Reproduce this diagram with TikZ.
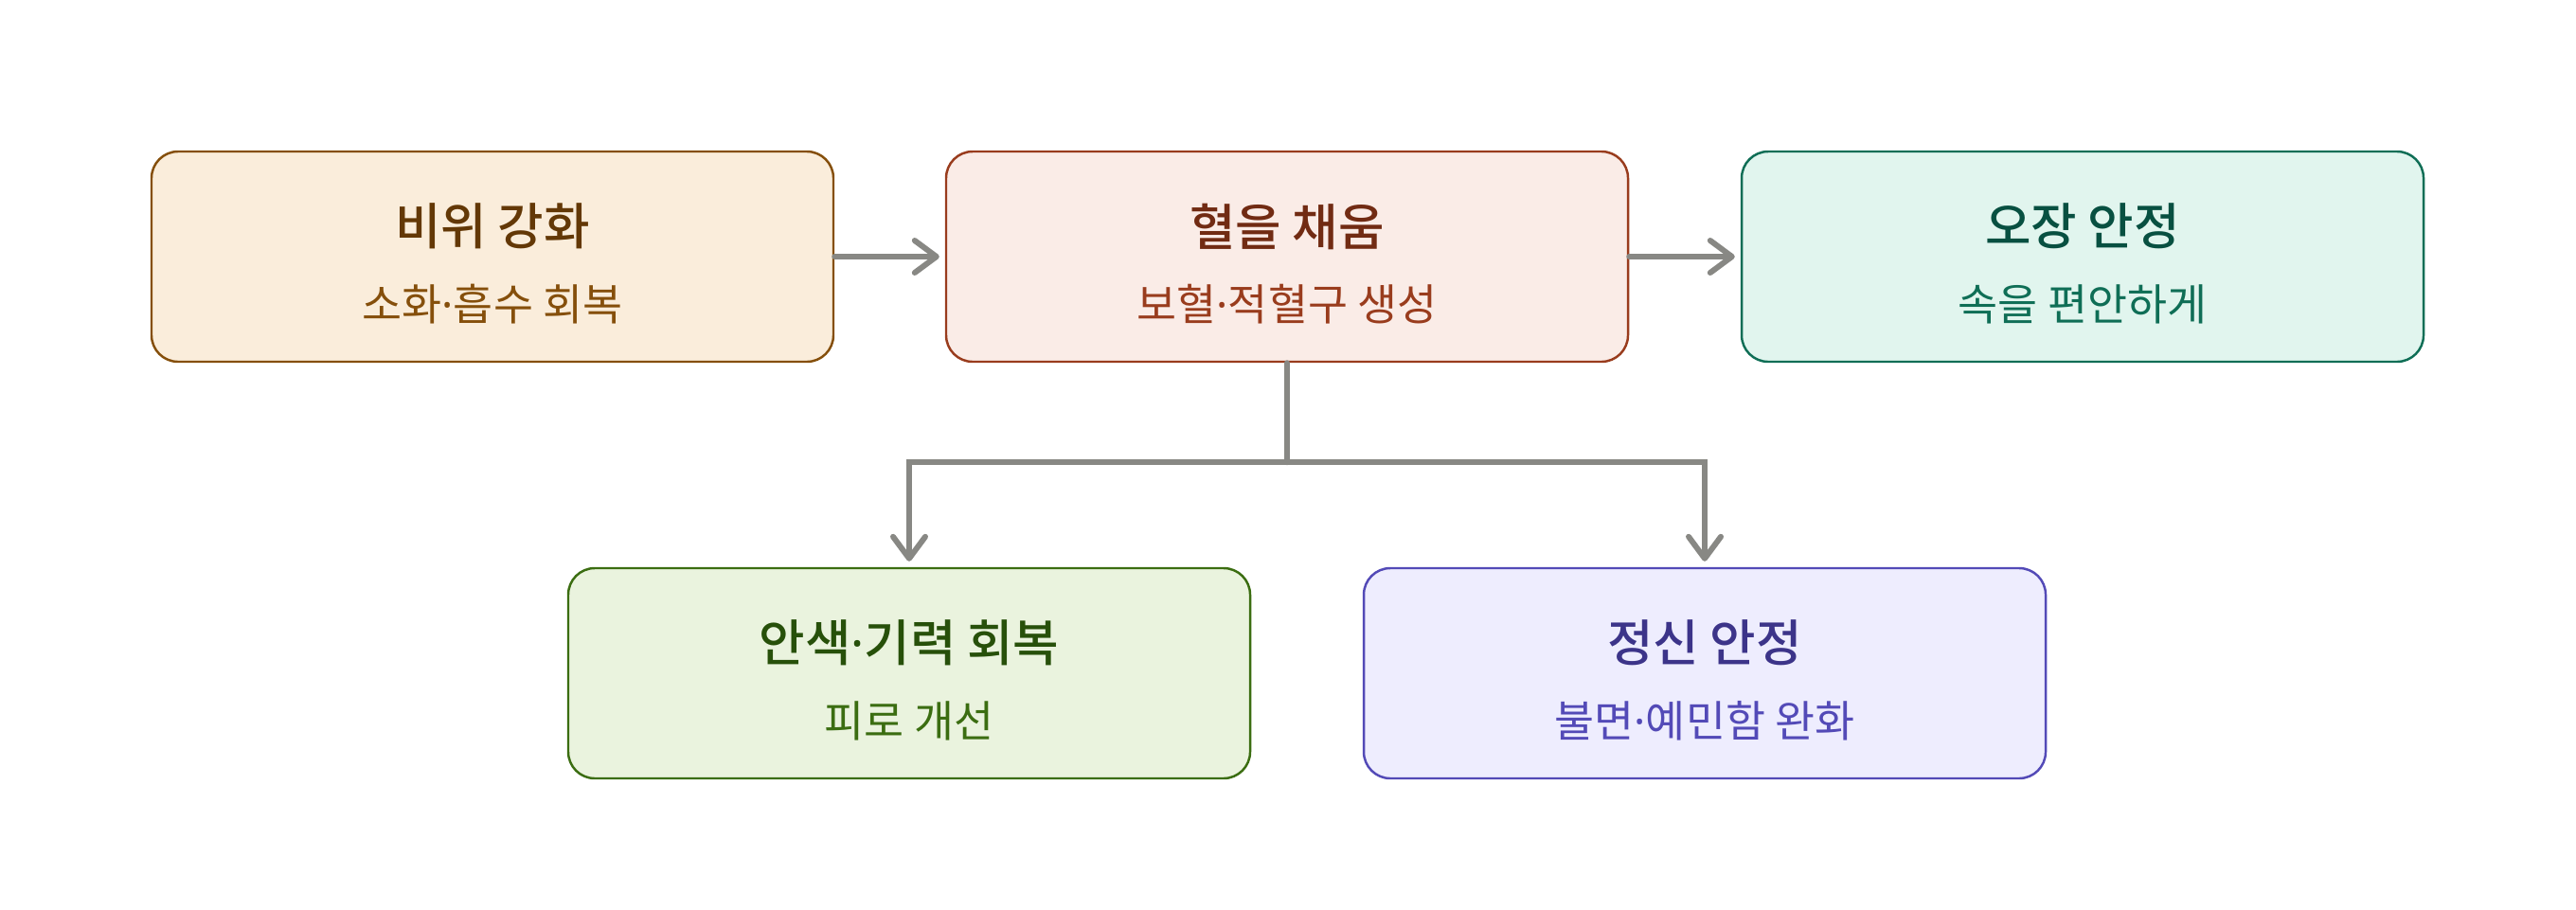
\documentclass[tikz,border=0pt]{standalone}
\usepackage{fontspec}
\newfontfamily\kr{Noto Sans CJK KR}
\newfontfamily\krmed{Noto Sans CJK KR Medium}
\newfontfamily\latin{Noto Sans}
\newcommand\mdot{{\latin ·}}
\usetikzlibrary{arrows.meta}
\definecolor{linkgray}{HTML}{888884}
\definecolor{fillA}{HTML}{FAEDDB}\definecolor{lineA}{HTML}{854F0B}\definecolor{headA}{HTML}{633806}
\definecolor{fillB}{HTML}{FAECE7}\definecolor{lineB}{HTML}{993C1D}\definecolor{headB}{HTML}{712B13}
\definecolor{fillC}{HTML}{E1F5EE}\definecolor{lineC}{HTML}{0F6E56}\definecolor{headC}{HTML}{085041}
\definecolor{fillD}{HTML}{EAF3DE}\definecolor{lineD}{HTML}{3B6D11}\definecolor{headD}{HTML}{27500A}
\definecolor{fillE}{HTML}{EEEDFE}\definecolor{lineE}{HTML}{534AB7}\definecolor{headE}{HTML}{3C3489}
\begin{document}
\begin{tikzpicture}[>={Straight Barb[length=2.3mm,width=3.4mm,round]},
	box/.style={draw=line#1, fill=fill#1, line width=0.7pt, rounded corners=0.28cm,
		minimum width=7.2cm, minimum height=2.22cm},
	head/.style={font=\krmed\fontsize{15}{17}\selectfont, text=head#1},
	sub/.style={font=\kr\fontsize{13}{15}\selectfont, text=line#1},
	link/.style={->, draw=linkgray, line width=1.7pt, line cap=round}]
	\useasboundingbox (0,0) rectangle (27.2,9.6);
	% top row
	\node[box=A] (spleen) at (5.20,6.89) {};
	\node[box=B] (blood) at (13.59,6.89) {};
	\node[box=C] (organs) at (21.99,6.89) {};
	% bottom row
	\node[box=D] (vigour) at (9.60,2.49) {};
	\node[box=E] (mind) at (18.00,2.49) {};
	% texts
	\node[head=A] (spleenhead) at ([yshift=0.32cm]spleen.center) {비위 강화};
	\node[sub=A] (spleensub) at ([yshift=-0.50cm]spleen.center) {소화\mdot 흡수 회복};
	\node[head=B] (bloodhead) at ([yshift=0.32cm]blood.center) {혈을 채움};
	\node[sub=B] (bloodsub) at ([yshift=-0.50cm]blood.center) {보혈\mdot 적혈구 생성};
	\node[head=C] (organshead) at ([yshift=0.32cm]organs.center) {오장 안정};
	\node[sub=C] (organssub) at ([yshift=-0.50cm]organs.center) {속을 편안하게};
	\node[head=D] (vigourhead) at ([yshift=0.32cm]vigour.center) {안색\mdot 기력 회복};
	\node[sub=D] (vigoursub) at ([yshift=-0.50cm]vigour.center) {피로 개선};
	\node[head=E] (mindhead) at ([yshift=0.32cm]mind.center) {정신 안정};
	\node[sub=E] (mindsub) at ([yshift=-0.50cm]mind.center) {불면\mdot 예민함 완화};
	% links
	\draw[link] (spleen.east) -- ([xshift=-0.06cm]blood.west);
	\draw[link] (blood.east) -- ([xshift=-0.06cm]organs.west);
	\coordinate (split) at ([yshift=-1.05cm]blood.south);
	\draw[link, -] (blood.south) -- (split);
	\draw[link] (split) -| ([yshift=0.06cm]vigour.north);
	\draw[link] (split) -| ([yshift=0.06cm]mind.north);
\end{tikzpicture}
\end{document}
